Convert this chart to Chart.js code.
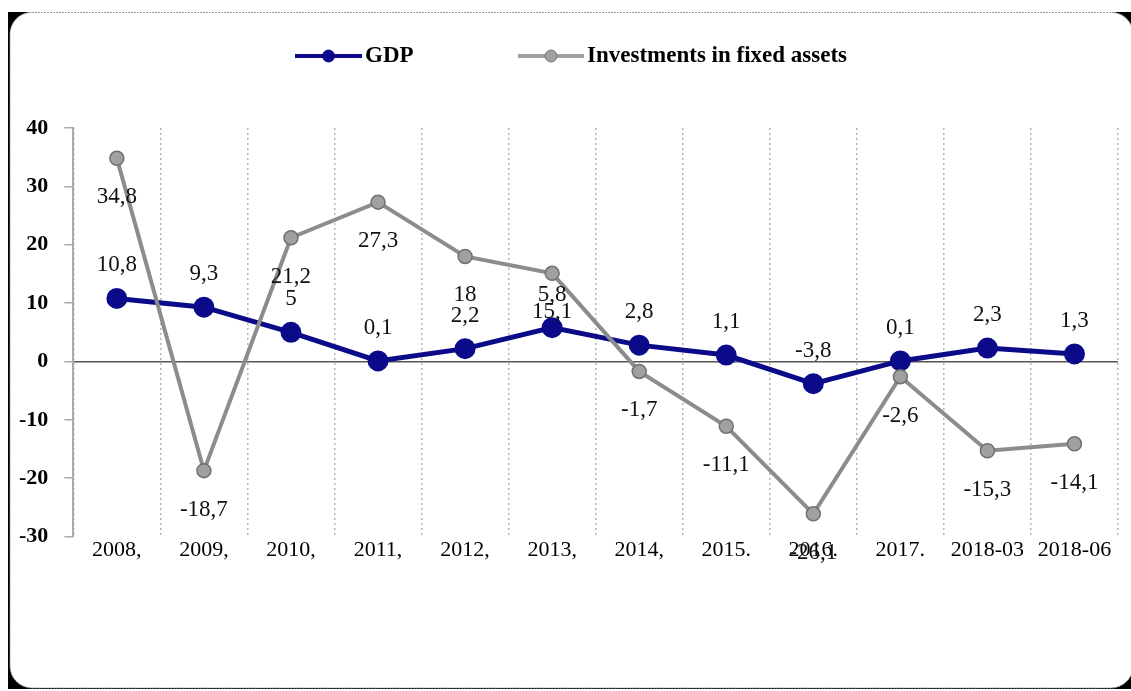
<!DOCTYPE html>
<html>
<head>
<meta charset="utf-8">
<script src="https://cdn.jsdelivr.net/npm/chart.js@4.4.0/dist/chart.umd.min.js"></script>
<style>
  html, body { margin: 0; padding: 0; background: #fff; }
  #wrap { position: relative; width: 1131px; height: 691px; }
</style>
</head>
<body>
<div id="wrap"><canvas id="chart"></canvas></div>
<script>
/* ── data ─────────────────────────────────────────────── */
const years       = ['2008,', '2009,', '2010,', '2011,', '2012,', '2013,', '2014,', '2015.', '2016.', '2017.', '2018-03', '2018-06'];
const gdp         = [10.8, 9.3, 5, 0.1, 2.2, 5.8, 2.8, 1.1, -3.8, 0.1, 2.3, 1.3];
const investments = [34.8, -18.7, 21.2, 27.3, 18, 15.1, -1.7, -11.1, -26.1, -2.6, -15.3, -14.1];
const yTicks      = [-30, -20, -10, 0, 10, 20, 30, 40];

const SERIF = "'Liberation Serif', 'Times New Roman', serif";
const NAVY  = '#0b0b8a';
const GREY  = '#8c8c8c';

/* ── rounded frame behind everything ─────────────────── */
const framePlugin = {
  id: 'frame',
  beforeDraw(chart) {
    const c = chart.ctx, w = chart.width, h = chart.height;
    c.save();
    c.fillStyle = '#fff';
    c.fillRect(0, 0, w, h);
    // black only shows in the corners and down the left side
    c.beginPath();
    c.rect(8, 12, w - 8, h - 14);
    c.roundRect(10, 12, w - 8, h - 15, 22);
    c.fillStyle = '#000';
    c.fill('evenodd');
    c.beginPath();
    c.roundRect(10, 12.5, w - 8, h - 15.5, 22);
    c.strokeStyle = '#999';
    c.lineWidth = 1;
    c.setLineDash([2, 1]);
    c.stroke();
    c.restore();
  }
};

/* ── legend with line + marker, like the spreadsheet one ── */
const legendPlugin = {
  id: 'lineLegend',
  afterDraw(chart) {
    const c = chart.ctx;
    const items = [
      { text: 'GDP', color: NAVY, border: NAVY, x0: 295, x1: 362, lw: 4, r: 6 },
      { text: 'Investments in fixed assets', color: '#a0a0a0', border: '#777', x0: 518, x1: 584, lw: 4, r: 6 },
    ];
    const y = 56;
    c.save();
    items.forEach(it => {
      c.beginPath();
      c.moveTo(it.x0, y);
      c.lineTo(it.x1, y);
      c.strokeStyle = it.color;
      c.lineWidth = it.lw;
      c.stroke();
      c.beginPath();
      c.arc((it.x0 + it.x1) / 2, y, it.r, 0, Math.PI * 2);
      c.fillStyle = it.color;
      c.fill();
      c.strokeStyle = it.border;
      c.lineWidth = 1;
      c.stroke();
      c.fillStyle = '#000';
      c.font = `bold 23px ${SERIF}`;
      c.textBaseline = 'middle';
      c.textAlign = 'left';
      c.fillText(it.text, it.x1 + 3, y);
    });
    c.restore();
  }
};

/* ── value labels (comma decimals) ───────────────────── */
const valueLabels = {
  id: 'valueLabels',
  afterDatasetsDraw(chart) {
    const c = chart.ctx;
    c.save();
    c.font = `23px ${SERIF}`;
    c.fillStyle = '#111';
    c.textAlign = 'center';
    c.textBaseline = 'middle';
    chart.data.datasets.forEach((ds, i) => {
      const meta = chart.getDatasetMeta(i);
      meta.data.forEach((pt, j) => {
        const txt = String(ds.data[j]).replace('.', ',');
        c.fillText(txt, pt.x, pt.y + ds.labelShift);
      });
    });
    c.restore();
  }
};

new Chart(document.getElementById('chart'), {
  type: 'line',
  data: {
    labels: years,
    datasets: [
      {
        label: 'GDP',
        data: gdp,
        borderColor: NAVY,
        backgroundColor: NAVY,
        pointBackgroundColor: NAVY,
        pointBorderColor: NAVY,
        borderWidth: 5,
        pointRadius: 8,
        tension: 0,
        order: 2,
        labelShift: -33,
      },
      {
        label: 'Investments in fixed assets',
        data: investments,
        borderColor: GREY,
        backgroundColor: GREY,
        pointBackgroundColor: '#a0a0a0',
        pointBorderColor: '#707070',
        pointBorderWidth: 1.5,
        borderWidth: 4,
        pointRadius: 7,
        tension: 0,
        order: 1,
        labelShift: 39,
      },
    ],
  },
  options: {
    responsive: true,
    maintainAspectRatio: false,
    animation: false,
    layout: { padding: { top: 128, left: 3, right: 6, bottom: 128 } },
    plugins: {
      legend: { display: false },
      tooltip: { enabled: false },
    },
    scales: {
      x: {
        offset: true,
        grid: {
          offset: true,
          color: '#b4b4b4',
          lineWidth: 1.5,
          drawTicks: false,
        },
        border: { display: false, dash: [2, 3] },
        ticks: {
          color: '#000',
          font: { family: SERIF, size: 22 },
          padding: 0,
          maxRotation: 0,
          autoSkip: false,
        },
      },
      y: {
        min: -30,
        max: 40,
        afterBuildTicks: axis => { axis.ticks = yTicks.map(v => ({ value: v })); },
        grid: {
          color: ctx => (ctx.tick && ctx.tick.value === 0 ? '#555' : 'rgba(0,0,0,0)'),
          lineWidth: 1.5,
          tickColor: '#aaa',
          tickLength: 9,
        },
        border: { display: true, color: '#aaa', width: 2 },
        ticks: {
          color: '#000',
          font: { family: SERIF, size: 22, weight: 'bold' },
          padding: 16,
        },
      },
    },
  },
  plugins: [framePlugin, valueLabels, legendPlugin],
});
</script>
</body>
</html>
